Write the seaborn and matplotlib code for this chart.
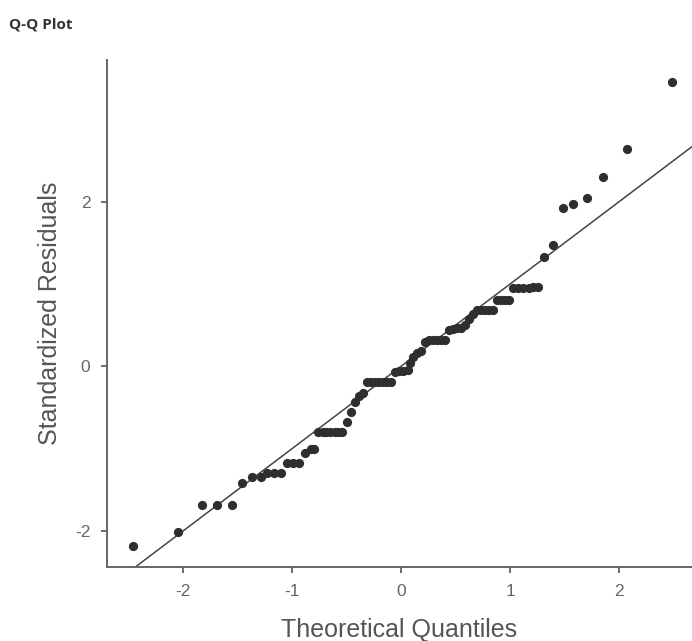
import numpy as np
import pandas as pd
import matplotlib
matplotlib.use("Agg")
import matplotlib.pyplot as plt
import seaborn as sns

# theoretical quantiles
theo = [-2.46, -2.05, -1.83, -1.69, -1.55, -1.46, -1.37, -1.29, -1.23, -1.17,
        -1.10, -1.05, -0.99, -0.94, -0.88, -0.83, -0.80, -0.76, -0.72, -0.69,
        -0.65, -0.61, -0.58, -0.54, -0.50, -0.46, -0.42, -0.39, -0.35, -0.31,
        -0.28, -0.24, -0.20, -0.17, -0.13, -0.09, -0.06, -0.02, 0.02, 0.06,
        0.08, 0.11, 0.15, 0.18, 0.22, 0.26, 0.29, 0.33, 0.37, 0.40,
        0.44, 0.48, 0.51, 0.55, 0.59, 0.62, 0.66, 0.70, 0.73, 0.77,
        0.81, 0.84, 0.88, 0.92, 0.95, 0.99, 1.03, 1.07, 1.12, 1.17,
        1.21, 1.26, 1.31, 1.39, 1.49, 1.58, 1.71, 1.85, 2.07, 2.49]
# standardized residuals
resid = [-2.18, -2.01, -1.68, -1.68, -1.68, -1.42, -1.35, -1.35, -1.30, -1.30,
         -1.30, -1.18, -1.18, -1.18, -1.05, -1.01, -1.01, -0.80, -0.80, -0.80,
         -0.80, -0.80, -0.80, -0.80, -0.68, -0.56, -0.44, -0.36, -0.32, -0.19,
         -0.19, -0.19, -0.19, -0.19, -0.19, -0.19, -0.07, -0.06, -0.06, -0.05,
         0.04, 0.11, 0.16, 0.19, 0.30, 0.32, 0.32, 0.32, 0.32, 0.32,
         0.44, 0.45, 0.46, 0.47, 0.50, 0.58, 0.64, 0.68, 0.68, 0.68,
         0.68, 0.68, 0.81, 0.81, 0.81, 0.81, 0.95, 0.95, 0.95, 0.95,
         0.96, 0.96, 1.33, 1.48, 1.93, 1.97, 2.05, 2.30, 2.64, 3.45]

df = pd.DataFrame({"Theoretical": theo, "Residual": resid})

sns.set_style("ticks")
plt.rcParams["font.family"] = ["Liberation Sans", "DejaVu Sans"]

fig = plt.figure(figsize=(6.92, 6.41), dpi=100)
ax = fig.add_axes([0.1546, 0.1154, 0.8454, 0.7906])

sns.scatterplot(data=df, x="Theoretical", y="Residual", ax=ax, color="#2e2e2e",
                s=44, linewidth=0, zorder=3)
ax.axline((0, 0), slope=1, color="#444444", linewidth=1.1, zorder=2)

ax.set_xlim(-2.70, 2.67)
ax.set_ylim(-2.44, 3.72)
ax.set_xticks([-2, -1, 0, 1, 2])
ax.set_yticks([-2, 0, 2])
ax.set_xticklabels(["-2", "-1", "0", "1", "2"])
ax.set_yticklabels(["-2", "0", "2"])
ax.tick_params(colors="#555555", labelsize=12.5, length=4, width=1.2, pad=8)
ax.tick_params(axis="x", labelcolor="#666666")
ax.tick_params(axis="y", labelcolor="#666666")
ax.set_xlabel("Theoretical Quantiles", fontsize=18, color="#555555", labelpad=14)
ax.set_ylabel("Standardized Residuals", fontsize=18, color="#555555", labelpad=9)
sns.despine(ax=ax)
for sp in ["left", "bottom"]:
    ax.spines[sp].set_color("#666666")
    ax.spines[sp].set_linewidth(1.4)

fig.text(0.013, 0.962, "Q-Q Plot", fontsize=11, fontweight="bold",
         color="#333333", family=["Open Sans", "DejaVu Sans"], va="center")

fig.savefig("out.png", dpi=100)
